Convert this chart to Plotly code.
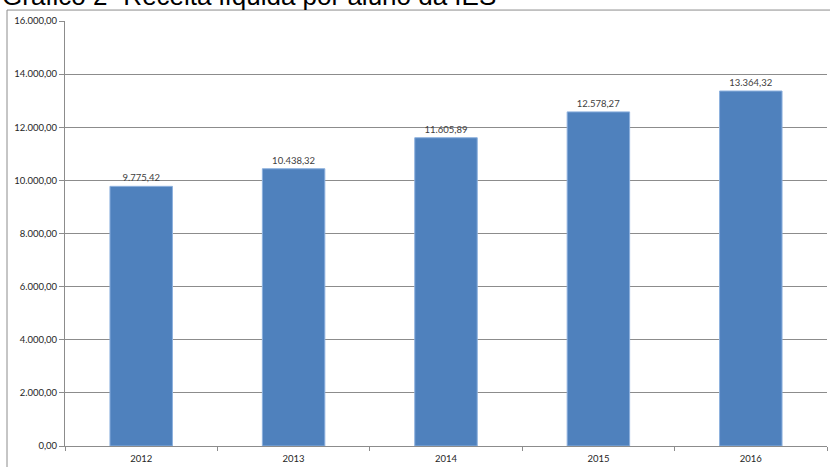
import plotly.graph_objects as go

# Receita líquida por aluno (R$) por ano
anos = ["2012", "2013", "2014", "2015", "2016"]
receita = [9775.42, 10438.32, 11605.89, 12578.27, 13364.32]

titulo = "Gráfico 2- Receita líquida por aluno da IES"

W, H = 830, 467
ML, MR, MT, MB = 65, 3, 21, 19
pw, ph = W - ML - MR, H - MT - MB

fig = go.Figure(
    go.Bar(
        x=anos,
        y=receita,
        marker=dict(color="#4F81BD", line=dict(color="#8DB1DE", width=1)),
        width=0.41,
        texttemplate="%{y:,.2f}",
        textposition="outside",
        textfont=dict(family="Lato", size=9.5, color="#404040"),
        cliponaxis=False,
    )
)

fig.update_layout(
    width=W,
    height=H,
    margin=dict(l=ML, r=MR, t=MT, b=MB),
    paper_bgcolor="white",
    plot_bgcolor="white",
    separators=",.",
    showlegend=False,
    bargap=0.59,
)

fig.update_yaxes(
    range=[0, 16000],
    dtick=2000,
    tickformat=",.2f",
    showgrid=True,
    gridcolor="#8C8C8C",
    gridwidth=1,
    showline=True,
    linecolor="#8C8C8C",
    ticks="outside",
    ticklen=5,
    tickcolor="#8C8C8C",
    tickfont=dict(family="Lato", size=9.5, color="#262626"),
    zeroline=False,
)

fig.update_xaxes(
    showline=True,
    linecolor="#8C8C8C",
    ticks="outside",
    tickson="boundaries",
    ticklen=4,
    tickcolor="#8C8C8C",
    ticklabelstandoff=4,
    tickfont=dict(family="Lato", size=9.5, color="#262626"),
    range=[-0.5, 4.5],
)

# Moldura do gráfico
fig.add_shape(
    type="line", xref="paper", yref="paper",
    x0=(7 - ML) / pw, x1=1 + MR / pw,
    y0=1 + (MT - 10) / ph, y1=1 + (MT - 10) / ph,
    line=dict(color="#8C8C8C", width=1),
)
fig.add_shape(
    type="line", xref="paper", yref="paper",
    x0=(7 - ML) / pw, x1=(7 - ML) / pw,
    y0=-MB / ph - 0.01, y1=1 + (MT - 10) / ph,
    line=dict(color="#8C8C8C", width=1),
)

fig.add_annotation(
    text=titulo,
    xref="paper", yref="paper",
    x=-ML / pw, xanchor="left",
    y=1 + (MT + 3.8) / ph, yanchor="middle",
    showarrow=False,
    font=dict(family="Liberation Sans", size=26, color="#000000"),
)

fig.write_html("out.html")
